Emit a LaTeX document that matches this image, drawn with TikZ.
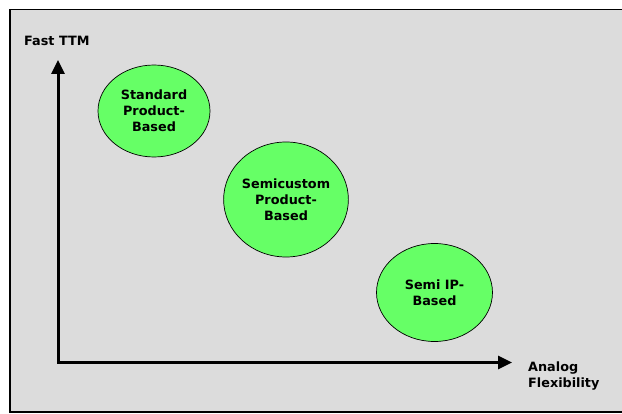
\documentclass[tikz,border=0pt]{standalone}
\usepackage{fontspec}
\setmainfont{DejaVu Sans}
\usetikzlibrary{arrows.meta,shapes.geometric}
\definecolor{panelgray}{RGB}{220,220,220}
\definecolor{blobgreen}{RGB}{102,255,102}
\tikzset{
  panel/.style={fill=panelgray, draw=black, line width=1.3pt},
  axis/.style={line width=3pt, {Triangle[length=14pt,width=13pt]}-{Triangle[length=14pt,width=13pt]}},
  blob/.style={ellipse, draw=black, line width=0.7pt, fill=blobgreen, inner sep=0pt,
    align=center, font=\bfseries\fontsize{12.8}{16}\selectfont},
  axislabel/.style={inner sep=0pt, align=left, font=\bfseries\fontsize{12.8}{16}\selectfont}
}
\begin{document}
\begin{tikzpicture}[x=1pt,y=-1pt]
  \useasboundingbox (0,0) rectangle (622,414);
  \fill[white] (0,0) rectangle (622,414);
  \draw[panel] (10,9.5) rectangle (630,412);

  % axes
  \coordinate (ytip) at (58,60);
  \coordinate (origin) at (58,362.5);
  \coordinate (xtip) at (512,362.5);
  \draw[axis] (ytip) -- (origin) -- (xtip);

  \node[axislabel, anchor=base west] (ylab) at (24,45.5) {Fast TTM};
  \node[axislabel, anchor=north west] (xlab) at (528,362) {Analog\\Flexibility};

  % design approaches
  \node[blob, minimum width=112pt, minimum height=92pt] (stdprod) at (154,111)
    {Standard\\Product-\\Based};
  \node[blob, minimum width=118pt, minimum height=115pt] (semiprod) at (286,199.5)
    {Semicustom\\Product-\\Based};
  \node[blob, minimum width=116pt, minimum height=98pt] (semiip) at (434.5,292.5)
    {Semi IP-\\Based};
\end{tikzpicture}
\end{document}
